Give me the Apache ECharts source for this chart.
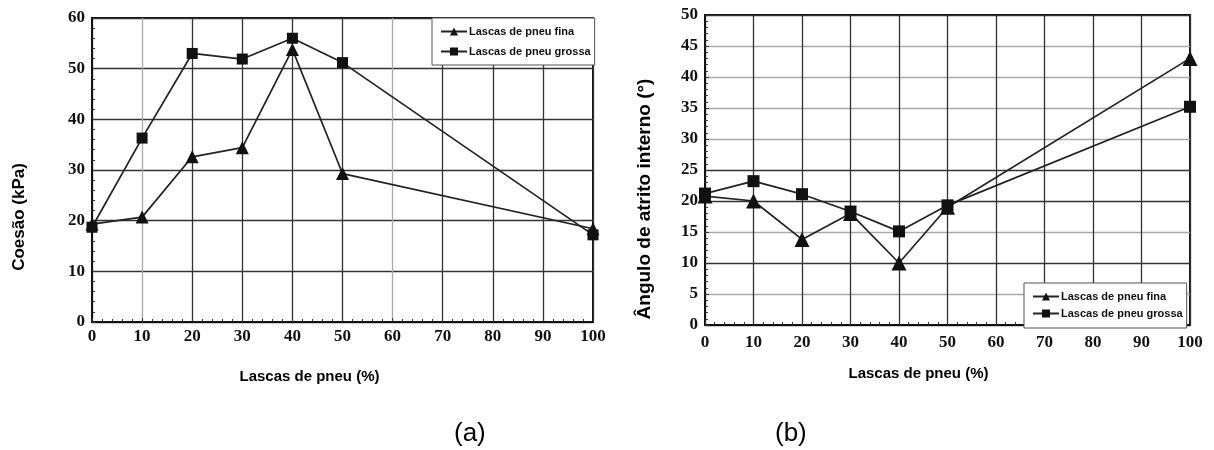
<!DOCTYPE html>
<html>
<head>
<meta charset="utf-8">
<script src="https://cdn.jsdelivr.net/npm/echarts@6/dist/echarts.min.js"></script>
<style>
  html, body { margin: 0; padding: 0; background: #fff; }
  #main { width: 1214px; height: 450px; }
</style>
</head>
<body>
<div id="main"></div>
<script>
  // teor de lascas de pneu (%)
  var pneuPct = [0, 10, 20, 30, 40, 50, 100];
  // (a) coesão (kPa)
  var coesaoFina = [19.3, 20.7, 32.6, 34.4, 53.8, 29.3, 18.4];
  var coesaoGrossa = [18.7, 36.3, 53.0, 51.9, 56.0, 51.2, 17.2];
  // (b) ângulo de atrito interno (°)
  var anguloFina = [20.8, 20.0, 13.8, 18.0, 10.0, 19.0, 43.0];
  var anguloGrossa = [21.2, 23.2, 21.1, 18.3, 15.1, 19.3, 35.2];

  var nomeFina = 'Lascas de pneu fina';
  var nomeGrossa = 'Lascas de pneu grossa';

  function pares(xs, ys) {
    return xs.map(function (x, i) { return [x, ys[i]]; });
  }

  var chart = echarts.init(document.getElementById('main'));

  var tickFont = {
    fontFamily: 'Liberation Serif',
    fontWeight: 'bold',
    fontSize: 17,
    color: '#111'
  };
  var nameFont = {
    fontFamily: 'Liberation Sans',
    fontWeight: 'bold',
    color: '#000'
  };

  function eixoX(grid, vColors, nameGap, padding, margin) {
    return {
      type: 'value', gridIndex: grid, min: 0, max: 100, interval: 10,
      name: 'Lascas de pneu (%)', nameLocation: 'middle', nameGap: nameGap,
      nameTextStyle: Object.assign({ fontSize: 15, padding: padding }, nameFont),
      axisLine: { lineStyle: { color: '#111', width: 2 } },
      axisTick: { inside: true, length: 4, lineStyle: { color: '#333' } },
      minorTick: { show: true, splitNumber: 5, length: 3, lineStyle: { color: '#333' } },
      axisLabel: Object.assign({ margin: margin }, tickFont),
      splitLine: { show: true, lineStyle: { color: vColors, width: 1.3 } }
    };
  }

  function eixoY(grid, max, interval, minorSplit, hColors, name, nameSize, nameGap, padding) {
    return {
      type: 'value', gridIndex: grid, min: 0, max: max, interval: interval,
      name: name, nameLocation: 'middle', nameGap: nameGap,
      nameTextStyle: Object.assign({ fontSize: nameSize, padding: padding }, nameFont),
      axisLine: { show: true, lineStyle: { color: '#111', width: 2 } },
      axisTick: { inside: true, length: 4, lineStyle: { color: '#333' } },
      minorTick: { show: true, splitNumber: minorSplit, length: 3, lineStyle: { color: '#333' } },
      axisLabel: Object.assign({ margin: 7 }, tickFont),
      splitLine: { show: true, lineStyle: { color: hColors, width: 1.3 } }
    };
  }

  function serie(name, grid, xs, ys, symbol, size) {
    return {
      name: name, type: 'line', xAxisIndex: grid, yAxisIndex: grid,
      data: pares(xs, ys),
      symbol: symbol, symbolSize: size,
      itemStyle: { color: '#111' },
      lineStyle: { color: '#222', width: 1.7 },
      z: 3
    };
  }

  function legenda(left, top, gap, padding) {
    return {
      orient: 'vertical', left: left, top: top,
      data: [nomeFina, nomeGrossa],
      backgroundColor: '#fff',
      borderColor: '#555', borderWidth: 1,
      padding: padding, itemGap: gap,
      itemWidth: 26, itemHeight: 10,
      selectedMode: false,
      textStyle: { fontFamily: 'Liberation Sans', fontWeight: 'bold', fontSize: 11, color: '#111', padding: [0, 0, 0, -3] }
    };
  }

  var dk = '#333', lt = '#aaa';

  var option = {
    backgroundColor: '#fff',
    animation: false,
    title: [
      { text: '(a)', left: 449, top: 416, textStyle: { fontFamily: 'Liberation Sans', fontWeight: 'normal', fontSize: 26, color: '#000' } },
      { text: '(b)', left: 770, top: 416, textStyle: { fontFamily: 'Liberation Sans', fontWeight: 'normal', fontSize: 26, color: '#000' } }
    ],
    legend: [legenda(432, 18, 9, [8, 4, 8, 8]), legenda(1024, 283, 6, [8, 4, 9, 8])],
    grid: [
      { left: 92, top: 18, width: 501, height: 304, show: true, borderColor: '#111', borderWidth: 2 },
      { left: 705, top: 15, width: 485, height: 310, show: true, borderColor: '#111', borderWidth: 2 }
    ],
    xAxis: [
      eixoX(0, [dk, lt, dk, dk, dk, dk, lt, dk, dk, dk, dk], 47, [0, 66, 0, 0], 6),
      eixoX(1, [dk, dk, dk, dk, dk, dk, dk, dk, dk, dk, dk], 41, [0, 58, 0, 0], 9)
    ],
    yAxis: [
      eixoY(0, 60, 10, 5, [dk, dk, dk, dk, dk, dk, dk], 'Coesão (kPa)', 17, 64, [0, 94, 0, 0]),
      eixoY(1, 50, 5, 5, [dk, lt, dk, lt, dk, dk, lt, lt, lt, lt, dk], 'Ângulo de atrito interno (°)', 19, 51, [0, 58, 0, 0])
    ],
    series: [
      serie(nomeFina, 0, pneuPct, coesaoFina, 'triangle', 13),
      serie(nomeGrossa, 0, pneuPct, coesaoGrossa, 'rect', 11),
      serie(nomeFina, 1, pneuPct, anguloFina, 'triangle', 15),
      serie(nomeGrossa, 1, pneuPct, anguloGrossa, 'rect', 12)
    ]
  };

  chart.setOption(option);
</script>
</body>
</html>
